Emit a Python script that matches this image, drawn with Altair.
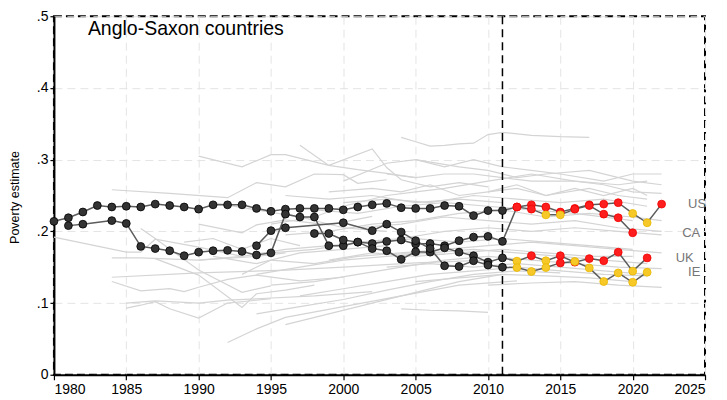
import altair as alt
import pandas as pd

# ---------------- highlighted series ----------------
us_years = list(range(1980, 2023))
us_vals = [0.214, 0.219, 0.227, 0.236, 0.234, 0.235, 0.234, 0.238, 0.236, 0.234,
           0.231, 0.237, 0.237, 0.237, 0.232, 0.228, 0.231, 0.232, 0.232, 0.232,
           0.230, 0.234, 0.237, 0.239, 0.233, 0.232, 0.232, 0.236, 0.235, 0.222,
           0.229, 0.229, 0.234, 0.237, 0.234, 0.227, 0.232, 0.237, 0.238, 0.240,
           0.225, 0.212, 0.238]
us_src = ["k"] * 32 + ["r"] * 8 + ["y", "y", "r"]

ca_years = [1981, 1982] + list(range(1984, 2021))
ca_vals = [0.208, 0.210, 0.215, 0.211, 0.179, 0.176, 0.173, 0.166, 0.171, 0.173,
           0.1735, 0.172, 0.167, 0.170, 0.224, 0.220, 0.220, 0.180, 0.180, 0.185,
           0.183, 0.186, 0.188, 0.1825, 0.183, 0.180, 0.187, 0.192, 0.193, 0.186,
           0.234, 0.231, 0.223, 0.223, 0.231, 0.236, 0.224, 0.219, 0.198]
ca_src = ["k"] * 30 + ["r", "r", "y", "y", "r", "r", "r", "r", "r"]

uk_years = list(range(1998, 2022))
uk_vals = [0.197, 0.197, 0.188, 0.185, 0.176, 0.173, 0.161, 0.1716, 0.171, 0.177,
           0.171, 0.166, 0.157, 0.163, 0.1585, 0.166, 0.159, 0.166, 0.157, 0.162,
           0.159, 0.171, 0.1445, 0.163]
uk_src = ["k"] * 14 + ["y", "r", "y", "r", "r", "r", "r", "r", "y", "r"]

ie_years = [1994, 1995, 1996, 2000] + list(range(2002, 2022))
ie_vals = [0.180, 0.201, 0.205, 0.212, 0.201, 0.210, 0.199, 0.187, 0.176, 0.152,
           0.151, 0.159, 0.153, 0.150, 0.1495, 0.144, 0.1495, 0.156, 0.158, 0.149,
           0.130, 0.142, 0.129, 0.143]
ie_src = ["k"] * 14 + ["y", "y", "y", "r", "y", "y", "y", "y", "y", "y"]

countries = ["US", "CA", "UK", "IE"]

# ---------------- background countries (grey) ----------------
bg_lines = [
    ([1980, 1985, 1986, 1987, 1990, 1993], [0.192, 0.171, 0.171, 0.189, 0.178, 0.165]),
    ([1984, 1988, 1992, 1994, 1996, 1998, 2000, 2001, 2003], [0.258, 0.253, 0.247, 0.268, 0.262, 0.280, 0.279, 0.267, 0.272]),
    ([1990, 1993, 1995, 1996, 1999, 2002, 2003, 2004, 2006, 2008, 2010], [0.305, 0.290, 0.307, 0.307, 0.292, 0.315, 0.289, 0.272, 0.262, 0.268, 0.262]),
    ([1997, 1999, 2001, 2003, 2005], [0.320, 0.292, 0.286, 0.281, 0.275]),
    ([2004, 2005, 2006, 2007, 2008, 2009, 2010, 2011, 2013, 2015, 2017], [0.331, 0.325, 0.319, 0.320, 0.322, 0.323, 0.335, 0.338, 0.334, 0.332, 0.331]),
    ([1986, 1987, 1990, 1993, 1995], [0.204, 0.190, 0.146, 0.115, 0.124]),
    ([1987, 1990, 1993, 1994, 1996, 1998], [0.162, 0.139, 0.094, 0.113, 0.118, 0.125]),
    ([1984, 1990, 1996, 2000, 2005, 2010], [0.136, 0.142, 0.146, 0.150, 0.156, 0.160]),
    ([1984, 1986, 1988, 1989, 1990, 1992, 1994, 1997, 2000], [0.130, 0.117, 0.120, 0.116, 0.122, 0.133, 0.139, 0.131, 0.136]),
    ([1985, 1987, 1990, 1992, 1994, 1998, 2002], [0.100, 0.103, 0.100, 0.104, 0.106, 0.110, 0.116]),
    ([1985, 1986, 1987, 1988, 1990, 1992, 1995], [0.093, 0.097, 0.102, 0.092, 0.079, 0.100, 0.106]),
    ([1992, 1994, 1996, 2000, 2004, 2008, 2012], [0.045, 0.064, 0.080, 0.095, 0.110, 0.125, 0.131]),
    ([1990, 1993, 1994, 1996, 1999, 2002], [0.210, 0.198, 0.209, 0.216, 0.209, 0.221]),
    ([1984, 1986, 1990, 1994, 1996], [0.163, 0.163, 0.160, 0.165, 0.170]),
    ([1989, 1991, 1993, 1995, 1997], [0.185, 0.190, 0.175, 0.190, 0.180]),
    ([1991, 1994, 1997, 2000, 2003], [0.165, 0.155, 0.170, 0.175, 0.180]),
    ([1993, 1995, 1998, 2001, 2004, 2007], [0.140, 0.160, 0.155, 0.165, 0.170, 0.168]),
    ([1994, 1997, 2000, 2003, 2006, 2009, 2012, 2015], [0.085, 0.095, 0.105, 0.118, 0.130, 0.140, 0.145, 0.142]),
    ([1996, 1999, 2002, 2005, 2008, 2011], [0.070, 0.085, 0.100, 0.115, 0.130, 0.140]),
    ([2004, 2006, 2008, 2010], [0.092, 0.090, 0.089, 0.087]),
    ([2010, 2013, 2016, 2019, 2022], [0.125, 0.128, 0.130, 0.125, 0.122]),
    ([2005, 2008, 2011, 2014, 2017, 2020], [0.130, 0.135, 0.140, 0.138, 0.135, 0.130]),
    ([2003, 2006, 2009, 2012, 2015, 2018, 2021], [0.150, 0.155, 0.150, 0.155, 0.150, 0.145, 0.140]),
    ([1995, 1998, 2001, 2004, 2007, 2010, 2013, 2016, 2019, 2022], [0.170, 0.175, 0.185, 0.190, 0.200, 0.205, 0.200, 0.205, 0.200, 0.195]),
    ([1990, 1993, 1996, 1999, 2002, 2005, 2008, 2011, 2014, 2017, 2020], [0.160, 0.165, 0.175, 0.180, 0.185, 0.190, 0.185, 0.190, 0.185, 0.180, 0.175]),
    ([1994, 1997, 2000, 2003, 2006, 2009, 2012, 2015, 2018, 2021], [0.140, 0.150, 0.160, 0.165, 0.170, 0.175, 0.170, 0.165, 0.160, 0.155]),
    ([1995, 1998, 2001, 2004, 2007, 2010, 2013, 2016, 2019, 2022], [0.125, 0.130, 0.140, 0.150, 0.160, 0.165, 0.160, 0.155, 0.150, 0.148]),
    ([1997, 2000, 2003, 2006, 2009, 2012, 2015, 2018, 2021], [0.110, 0.120, 0.130, 0.140, 0.145, 0.150, 0.145, 0.140, 0.138]),
    ([2004, 2007, 2010, 2013, 2016, 2019, 2022], [0.170, 0.175, 0.180, 0.185, 0.180, 0.175, 0.170]),
    ([1999, 2002, 2005, 2008, 2011, 2014, 2017, 2020], [0.160, 0.170, 0.165, 0.170, 0.175, 0.170, 0.165, 0.165]),
    ([1996, 1999, 2002, 2005, 2008, 2011, 2014, 2017, 2020, 2022], [0.195, 0.200, 0.210, 0.215, 0.225, 0.230, 0.220, 0.225, 0.220, 0.215]),
    ([2001, 2004, 2007, 2010, 2013, 2016, 2019, 2022], [0.205, 0.210, 0.220, 0.215, 0.210, 0.215, 0.205, 0.200]),
    ([1998, 2001, 2004, 2007, 2010, 2013, 2016, 2020], [0.230, 0.225, 0.235, 0.240, 0.235, 0.230, 0.225, 0.215]),
    ([1996, 1999, 2002, 2005, 2008, 2011], [0.250, 0.245, 0.250, 0.240, 0.245, 0.240]),
    ([2000, 2003, 2006, 2009, 2012, 2015, 2018, 2021], [0.240, 0.245, 0.240, 0.250, 0.245, 0.240, 0.245, 0.235]),
    ([1995, 1998, 2000, 2003, 2005, 2007, 2010, 2013, 2016, 2019, 2021], [0.210, 0.220, 0.235, 0.250, 0.255, 0.260, 0.270, 0.280, 0.270, 0.265, 0.270]),
    ([1999, 2002, 2004, 2006, 2008, 2010, 2012, 2014, 2017, 2019, 2021], [0.255, 0.260, 0.255, 0.265, 0.250, 0.255, 0.260, 0.250, 0.260, 0.250, 0.245]),
    ([2010, 2012, 2014, 2016, 2018, 2020, 2021], [0.255, 0.265, 0.250, 0.260, 0.250, 0.260, 0.250]),
    ([1991, 1994, 1997, 2000, 2003], [0.240, 0.230, 0.220, 0.205, 0.200]),
    ([2000, 2003, 2005, 2007, 2009, 2011, 2013, 2015, 2018, 2020, 2022], [0.270, 0.295, 0.300, 0.290, 0.300, 0.290, 0.285, 0.280, 0.270, 0.280, 0.280]),
    ([2003, 2005, 2007, 2009, 2011, 2013, 2016, 2018, 2020, 2022], [0.280, 0.275, 0.280, 0.280, 0.275, 0.270, 0.270, 0.265, 0.255, 0.253]),
    ([2005, 2008, 2010, 2012, 2014, 2017, 2020, 2022], [0.300, 0.290, 0.285, 0.275, 0.280, 0.285, 0.270, 0.265]),
]

title_text = "Anglo-Saxon countries"
break_year = 2011

# ---------------- build tables ----------------
rows = []
for c, yrs, vals, src in [("US", us_years, us_vals, us_src),
                          ("CA", ca_years, ca_vals, ca_src),
                          ("UK", uk_years, uk_vals, uk_src),
                          ("IE", ie_years, ie_vals, ie_src)]:
    for yy, vv, ss in zip(yrs, vals, src):
        rows.append({"country": c, "year": yy, "value": vv, "src": ss})
hl = pd.DataFrame(rows)

bg_rows = []
for i, (yrs, vals) in enumerate(bg_lines):
    for yy, vv in zip(yrs, vals):
        bg_rows.append({"id": i, "year": yy, "value": vv})
bg = pd.DataFrame(bg_rows)

# label layout (horizontal placement of end labels, in years)
label_x = {"US": 2024.45, "CA": 2024.05, "UK": 2023.6, "IE": 2024.25}
last = hl.sort_values("year").groupby("country").tail(1)
labels = pd.DataFrame({
    "lab": countries,
    "lx": [label_x[c] for c in countries],
    "ly": [float(last[last.country == c].value.iloc[0]) for c in countries],
})

FONT = "Liberation Sans"

xscale = alt.Scale(domain=[1980, 2025], nice=False, zero=False)
yscale = alt.Scale(domain=[0, 0.5], nice=False, zero=True)

x_axis = alt.Axis(values=list(range(1980, 2026, 5)), format="d", title=None,
                  grid=True, gridColor="#e4e4e4", gridDash=[8, 5], gridWidth=1,
                  domainColor="black", domainWidth=2, tickColor="black",
                  tickSize=5, tickWidth=1.2, labelPadding=3,
                  labelFont=FONT, labelFontSize=14, labelColor="black")
y_axis = alt.Axis(values=[0, 0.1, 0.2, 0.3, 0.4, 0.5],
                  labelExpr="datum.value == 0 ? '0' : replace(format(datum.value, '.1f'), '0.', '.')",
                  title="Poverty estimate", titleFont=FONT, titleFontSize=12.5,
                  titleFontWeight="normal", titleColor="black",
                  titleX=-39, titleY=181, titleBaseline="middle", titleAngle=-90,
                  grid=True, gridColor="#e4e4e4", gridDash=[8, 5], gridWidth=1,
                  domainColor="black", domainWidth=2, tickColor="black",
                  tickSize=4, tickWidth=1.2, labelPadding=2,
                  labelFont=FONT, labelFontSize=14, labelColor="black")

X = alt.X("year:Q", scale=xscale, axis=x_axis)
Y = alt.Y("value:Q", scale=yscale, axis=y_axis)

bg_layer = alt.Chart(bg).mark_line(color="#d4d4d4", strokeWidth=1.2).encode(
    x=X, y=Y, detail="id:N", order="year:Q")

vline = alt.Chart(pd.DataFrame({"year": [break_year]})).mark_rule(
    color="black", strokeDash=[8, 5], strokeWidth=1.5).encode(x=alt.X("year:Q", scale=xscale))

hl_lines = alt.Chart(hl).mark_line(color="#5c5c5c", strokeWidth=1.5).encode(
    x=alt.X("year:Q", scale=xscale), y=alt.Y("value:Q", scale=yscale),
    detail="country:N", order="year:Q")

pts = alt.Chart(hl).mark_circle(size=62, opacity=1, strokeWidth=0.8).encode(
    x=alt.X("year:Q", scale=xscale), y=alt.Y("value:Q", scale=yscale),
    fill=alt.Fill("src:N", scale=alt.Scale(domain=["k", "r", "y"],
                                           range=["#333333", "#ff1e1e", "#f6c928"]), legend=None),
    stroke=alt.Stroke("src:N", scale=alt.Scale(domain=["k", "r", "y"],
                                               range=["#000000", "#f00000", "#e8b800"]), legend=None),
)

lab_layer = alt.Chart(labels).mark_text(font=FONT, fontSize=13, color="#757575",
                                        align="center", baseline="middle").encode(
    x=alt.X("lx:Q", scale=xscale), y=alt.Y("ly:Q", scale=yscale), text="lab:N")

title_layer = alt.Chart(pd.DataFrame({"t": [title_text]})).mark_text(
    font=FONT, fontSize=19.5, color="black", align="left", baseline="middle").encode(
    x=alt.value(34), y=alt.value(13), text="t:N")

chart = alt.layer(bg_layer, vline, hl_lines, pts, lab_layer, title_layer).properties(
    width=652, height=359,
    autosize=alt.AutoSizeParams(type="none"),
    padding={"left": 46, "top": 8, "right": 14, "bottom": 22},
).configure_view(
    stroke="black", strokeDash=[8, 4], strokeWidth=2
).configure_axis(labelFontWeight="normal")

chart.save("out.html", embed_options={"renderer": "svg", "actions": False})
